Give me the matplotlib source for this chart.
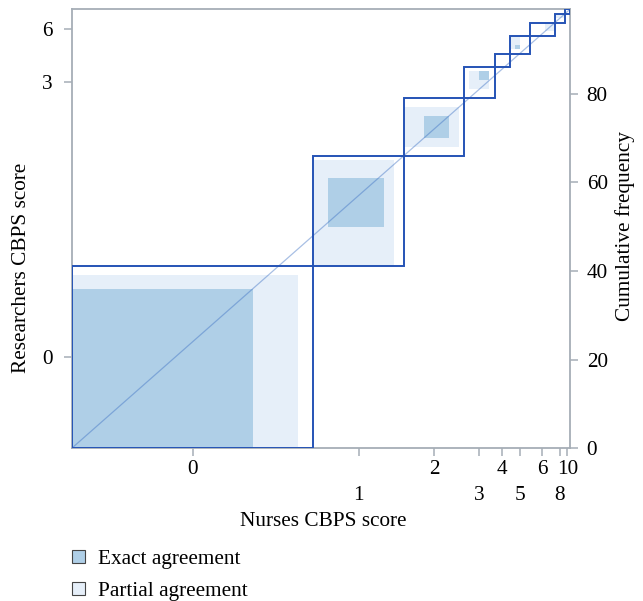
import numpy as np
import matplotlib
matplotlib.use('Agg')
import matplotlib.pyplot as plt
from matplotlib.patches import Rectangle, Patch
from matplotlib.transforms import blended_transform_factory

# ---- data -------------------------------------------------------------
categories = ['0', '1', '2', '3', '4', '5', '6', '8', '10']
# rows: researchers CBPS score, columns: nurses CBPS score
table = np.array([
    [36, 3, 0, 1, 1, 0, 0, 0, 0],
    [9, 11, 4, 0, 0, 0, 1, 0, 0],
    [2, 2, 5, 2, 2, 0, 0, 0, 0],
    [1, 1, 2, 2, 0, 0, 1, 0, 0],
    [0, 0, 1, 0, 0, 1, 1, 0, 0],
    [0, 1, 0, 0, 0, 1, 2, 0, 0],
    [0, 0, 0, 1, 0, 0, 0, 2, 0],
    [0, 0, 0, 0, 0, 1, 0, 0, 1],
    [0, 0, 0, 0, 0, 1, 0, 0, 0],
])
left_shown = ['0', '3', '6']
right_ticks = [0, 20, 40, 60, 80]

# ---- style -------------------------------------------------------------
plt.rcParams['font.family'] = ['Liberation Serif', 'DejaVu Serif']
FS = 15.3
outline_c = '#2553b5'
exact_c = '#afcfe7'
partial_c = '#e6eff9'
spine_c = '#a6aeb6'

row_tot = table.sum(axis=1)
col_tot = table.sum(axis=0)
N = table.sum()
xc = np.concatenate([[0], np.cumsum(col_tot)])
yc = np.concatenate([[0], np.cumsum(row_tot)])
k = len(categories)

W, H = 643, 601
fig = plt.figure(figsize=(W / 100, H / 100), dpi=100)
L, R, T, B = 71.7, 570.0, 9.3, 448.3
ax = fig.add_axes([L / W, 1 - B / H, (R - L) / W, (B - T) / H])
ax.set_xlim(0, N)
ax.set_ylim(0, N)

for i in range(k):
    lb = max(0, i - 1)
    ub = min(k - 1, i + 1)
    px = xc[i] + table[:lb, i].sum()
    pw = table[lb:ub + 1, i].sum()
    py = yc[i] + table[i, :lb].sum()
    ph = table[i, lb:ub + 1].sum()
    if pw > 0 and ph > 0:
        ax.add_patch(Rectangle((px, py), pw, ph, facecolor=partial_c,
                               edgecolor='none', zorder=1))
    n = table[i, i]
    ex = xc[i] + table[:i, i].sum()
    ey = yc[i] + table[i, :i].sum()
    if n > 0:
        ax.add_patch(Rectangle((ex, ey), n, n, facecolor=exact_c,
                               edgecolor='none', zorder=2))

ax.plot([0, N], [0, N], color='#3f72c4', alpha=0.45, lw=0.9, zorder=3)

for i in range(k):
    ax.add_patch(Rectangle((xc[i], yc[i]), col_tot[i], row_tot[i],
                           fill=False, edgecolor=outline_c, lw=1.4, zorder=4))

for s in ax.spines.values():
    s.set_color(spine_c)
    s.set_linewidth(1.3)
    s.set_zorder(0)

xcent = (xc[:-1] + xc[1:]) / 2
ycent = (yc[:-1] + yc[1:]) / 2

ax.set_xticks(xcent)
ax.set_xticklabels([''] * k)
ax.tick_params(axis='x', length=6, width=1.1, color=spine_c, direction='out')
trans = blended_transform_factory(ax.transData, fig.transFigure)
for i, c in enumerate(categories):
    ypix = 470 if i % 2 == 0 else 496
    ax.text(xcent[i], 1 - ypix / H, c, transform=trans, ha='center',
            va='center', fontsize=FS)

left_idx = [categories.index(c) for c in left_shown]
ax.set_yticks(ycent[left_idx])
ax.set_yticklabels(left_shown, fontsize=FS)
ax.tick_params(axis='y', length=6, width=1.1, color=spine_c, direction='out', pad=8)

ax2 = ax.twinx()
ax2.set_ylim(0, N)
ax2.set_yticks(right_ticks)
ax2.set_yticklabels([str(t) for t in right_ticks], fontsize=FS)
ax2.tick_params(axis='y', length=6, width=1.1, color=spine_c, direction='out', pad=6)
for s in ax2.spines.values():
    s.set_visible(False)

fig.text(323 / W, 1 - 522 / H, 'Nurses CBPS score', ha='center', va='center', fontsize=FS)
fig.text(22 / W, 1 - 268 / H, 'Researchers CBPS score', ha='center', va='center',
         rotation=90, fontsize=FS)
fig.text(625 / W, 1 - 226 / H, 'Cumulative frequency', ha='center', va='center',
         rotation=90, fontsize=FS)

handles = [Patch(facecolor=exact_c, edgecolor='#444444', lw=0.8, label='Exact agreement'),
           Patch(facecolor=partial_c, edgecolor='#444444', lw=0.8, label='Partial agreement')]
fig.legend(handles=handles, loc='upper left', bbox_to_anchor=(72 / W, 1 - 550 / H),
           frameon=False, fontsize=FS, handlelength=0.6, handleheight=0.6,
           handletextpad=0.6, labelspacing=0.6, borderaxespad=0, borderpad=0)

fig.savefig('out.png', dpi=100)
